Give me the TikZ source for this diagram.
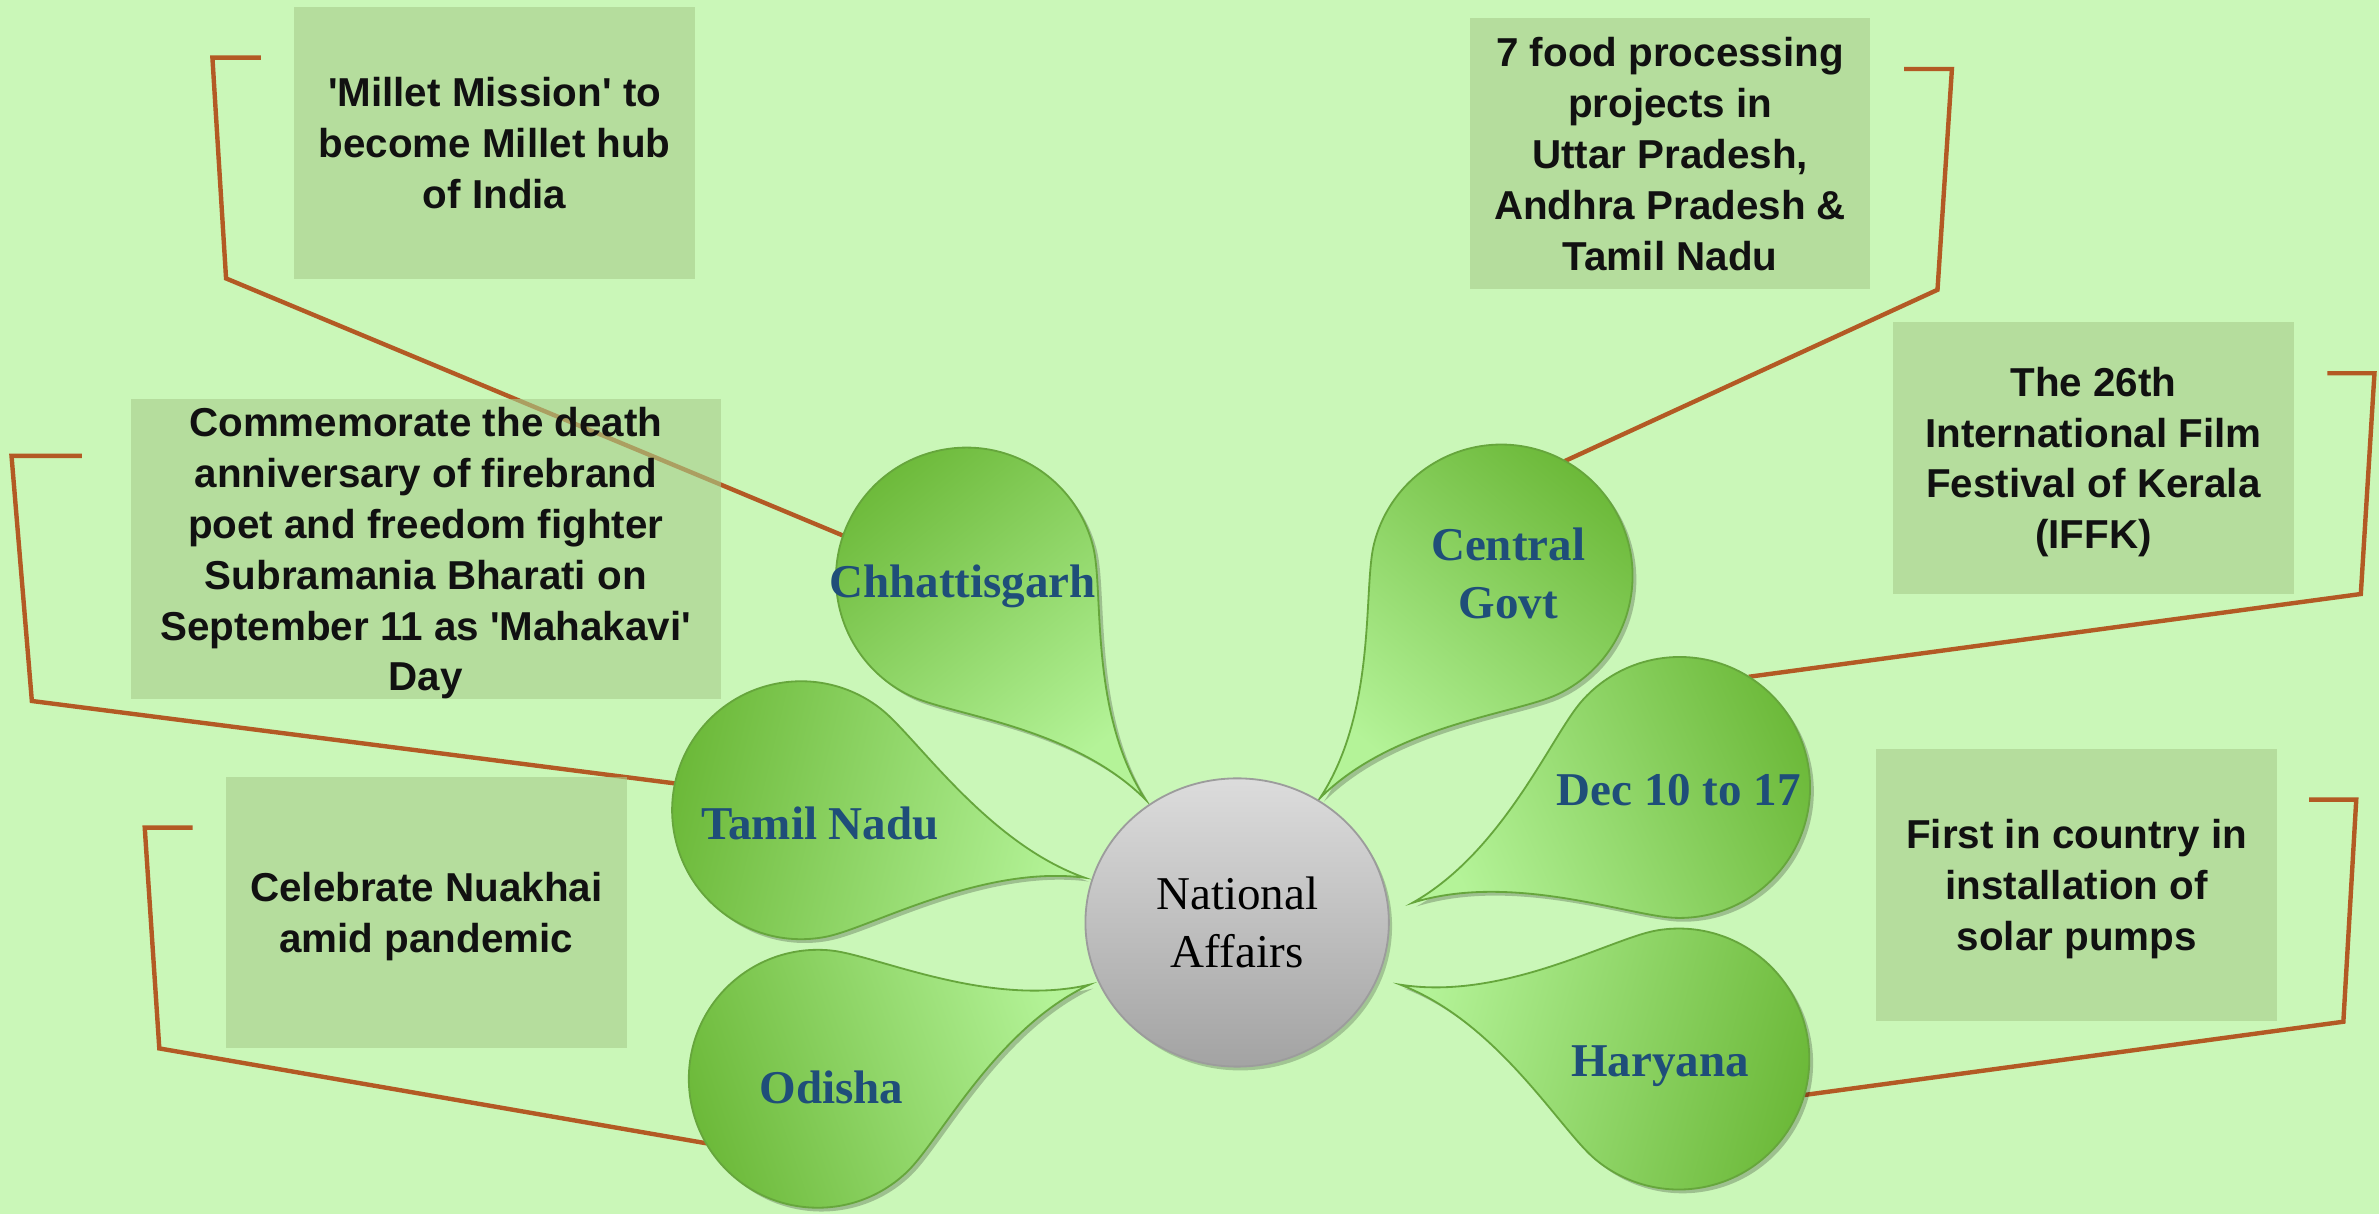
\documentclass[tikz,border=0pt]{standalone}
\usepackage{fontspec}
\setmainfont{Liberation Serif}
\newfontfamily\boxfont{Liberation Sans}
\usetikzlibrary{shapes.geometric}
\definecolor{bgc}{HTML}{CAF7B8}
\definecolor{boxc}{HTML}{A7CD8B}
\definecolor{connc}{HTML}{B35A24}
\definecolor{pdark}{HTML}{6CB939}
\definecolor{plight}{HTML}{B4F398}
\definecolor{pedge}{HTML}{66A63C}
\definecolor{plabel}{HTML}{1F4E79}
\definecolor{gtop}{HTML}{DCDCDC}
\definecolor{gbot}{HTML}{A3A3A3}
\definecolor{gedge}{HTML}{9C9C9C}
\definecolor{txt}{HTML}{111111}
\begin{document}
\begin{tikzpicture}[x=0.5pt, y=-0.5pt,
  conn/.style={draw=connc, line width=1.45pt, line join=miter},
  infobox/.style={fill=boxc, fill opacity=0.6, text opacity=1, inner sep=0, outer sep=0, align=center, text depth=0pt, text=txt, font=\boxfont\bfseries\fontsize{13.3}{16.75}\selectfont},
  anchorcirc/.style={circle, inner sep=0, outer sep=0},
  plbl/.style={text=plabel, font=\bfseries\fontsize{15.5}{19.25}\selectfont, inner sep=0, align=center},
  pshadow/.style={fill=black, opacity=0.22}]
\fill[bgc] (0,0) rectangle (1568,800);
\useasboundingbox (0,0) rectangle (1568,800);

% invisible petal circles used as connector anchors
\foreach \nm/\cx/\cy/\r in {chh/637/381/86, tn/528/534/85, od/539/711/85, cgv/989.5/379.5/86.5, dec/1107/519/86, har/1106.5/698/86}
  \node[anchorcirc, minimum size=\r pt] (\nm) at (\cx,\cy) {};

% connector bend points
\coordinate (mA) at (149,183.5);   \coordinate (mB) at (140,38);     \coordinate (mC) at (172,38);
\coordinate (fA) at (1277,191);    \coordinate (fB) at (1286.5,45.5); \coordinate (fC) at (1255,45.5);
\coordinate (iA) at (1556,391.5);  \coordinate (iB) at (1565,246);   \coordinate (iC) at (1534,246);
\coordinate (cA) at (21,462);      \coordinate (cB) at (7.6,300.5);  \coordinate (cC) at (54,300.5);
\coordinate (nA) at (105,691);     \coordinate (nB) at (95.4,545.5); \coordinate (nC) at (127,545.5);
\coordinate (sA) at (1544.5,673.4);\coordinate (sB) at (1553,527);   \coordinate (sC) at (1522,527);

\draw[conn] (chh.161) -- (mA) -- (mB) -- (mC);
\draw[conn] (cgv.61.2) -- (fA) -- (fB) -- (fC);
\draw[conn] (dec.58.2) -- (iA) -- (iB) -- (iC);
\draw[conn] (tn.168.6) -- (cA) -- (cB) -- (cC);
\draw[conn] (od.210.5) -- (nA) -- (nB) -- (nC);
\draw[conn] (har.-16.3) -- (sA) -- (sB) -- (sC);

% text boxes
\node[infobox, minimum width=132pt, minimum height=89.65pt] (millet) at (326,94)
  {\textquotesingle Millet Mission\textquotesingle{} to\\become Millet hub\\of India};
\node[infobox, minimum width=131.75pt, minimum height=89.35pt] (food) at (1100.75,101.35)
  {7 food processing\\projects in\\Uttar Pradesh,\\Andhra Pradesh \&\\Tamil Nadu};
\node[infobox, minimum width=132.25pt, minimum height=89.75pt] (iffk) at (1379.75,301.75)
  {The 26th\\International Film\\Festival of Kerala\\(IFFK)};
\node[infobox, minimum width=194.35pt, minimum height=99pt] (bharati) at (280.65,362)
  {Commemorate the death\\anniversary of firebrand\\poet and freedom fighter\\Subramania Bharati on\\September 11 as \textquotesingle Mahakavi\textquotesingle\\Day};
\node[infobox, minimum width=132pt, minimum height=89.5pt] (nuakhai) at (281,601.5)
  {Celebrate Nuakhai\\amid pandemic};
\node[infobox, minimum width=132.25pt, minimum height=89.5pt] (solar) at (1368.75,583.2)
  {First in country in\\installation of\\solar pumps};

% petals
\foreach \cx/\cy/\r/\tx/\ty in {637/381/86/755/527, 528/534/85/715/578.5, 539/711/85/718/649, 989.5/379.5/86.5/870/526, 1107/519/86/931/595, 1106.5/698/86/923/649}{
  \pgfmathsetmacro\th{atan2(\ty-\cy,\tx-\cx)}
  \pgfmathsetmacro\sa{\th+65}
  \pgfmathsetmacro\ea{\th+295}
  \pgfmathsetmacro\sx{\cx+\r*cos(\sa)}
  \pgfmathsetmacro\sy{\cy+\r*sin(\sa)}
  \pgfmathsetmacro\shang{-\th-90}
  \pgfmathsetmacro\ka{0.35*\r}
  \pgfmathsetmacro\kb{0.8*\r}
  \pgfmathsetmacro\ta{\th+186}
  \pgfmathsetmacro\tb{\th+174}
  \pgfmathsetmacro\ua{\ea+90}
  \pgfmathsetmacro\ub{\sa-90}
  \def\petalshape{(\sx,\sy) arc[start angle=\sa, end angle=\ea, radius=\r] .. controls +(\ua:\ka) and +(\ta:\kb) .. (\tx,\ty) .. controls +(\tb:\kb) and +(\ub:\ka) .. (\sx,\sy) -- cycle}
  \fill[pshadow, shift={(2.5,2.5)}] \petalshape;
  \path[draw=pedge, line width=0.6pt, top color=plight, bottom color=pdark, shading angle=\shang] \petalshape;
}

% petal labels
\node[plbl, anchor=base] (chhL) at (634.5,393.5) {Chhattisgarh};
\node[plbl, anchor=base] (tnL) at (540.5,553) {Tamil Nadu};
\node[plbl, anchor=base] (odL) at (548,727.6) {Odisha};
\node[plbl] (cgvL) at (994,378) {Central\\Govt};
\node[plbl, anchor=base] (decL) at (1106.5,530.6) {Dec 10 to 17};
\node[plbl, anchor=base] (harL) at (1094,709.2) {Haryana};

% centre
\fill[black, opacity=0.2] (817.5,610.5) ellipse [x radius=100, y radius=95];
\node[ellipse, minimum width=100pt, minimum height=95pt, inner sep=0, top color=gtop, bottom color=gbot, draw=gedge, line width=0.6pt, align=center, font=\fontsize{15.5}{19}\selectfont] (center) at (815.4,608) {National\\Affairs};
\end{tikzpicture}
\end{document}
